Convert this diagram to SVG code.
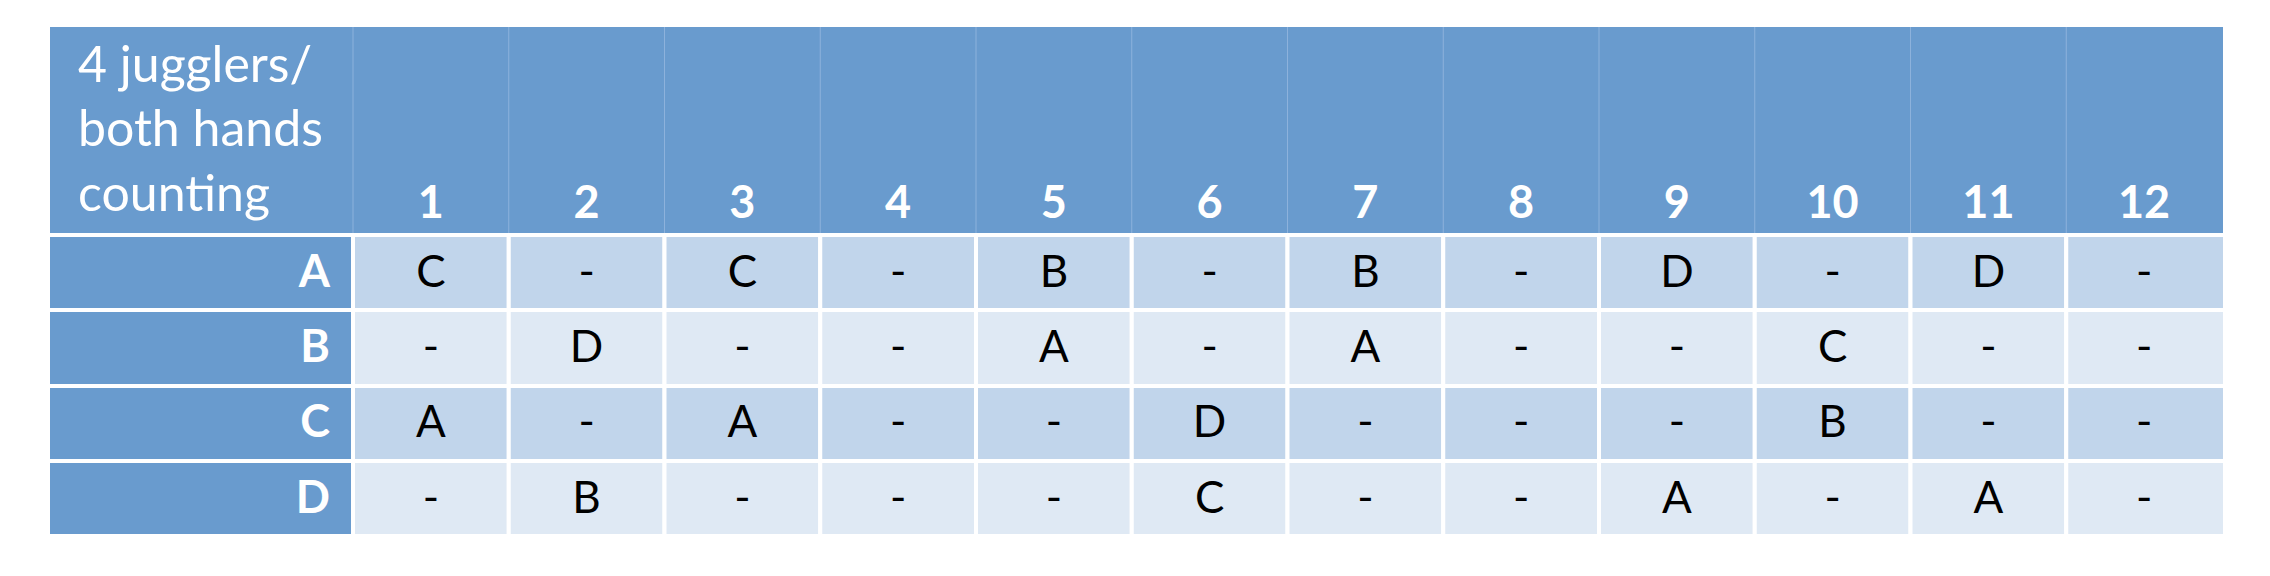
<svg xmlns="http://www.w3.org/2000/svg" width="2270" height="576" viewBox="0 0 2270 576">
<style>
.hdr{fill:#699BCE}
.hl{stroke:#8DB2DC;stroke-width:1}
.ra{fill:#C1D5EB;stroke:#fff;stroke-width:4}
.rb{fill:#DFE9F4;stroke:#fff;stroke-width:4}
.rl{fill:#699BCE;stroke:#fff;stroke-width:4}
.t{font-family:Lato,"Liberation Sans",sans-serif}
.ht{fill:#fff;font-size:50px}
.num{fill:#fff;font-size:45px;font-weight:bold;text-anchor:middle}
.lab{fill:#fff;font-size:45px;font-weight:bold;text-anchor:end}
.c{fill:#000;font-size:44px;text-anchor:middle}
</style>
<rect width="2270" height="576" fill="#fff"/>
<g id="header">
<rect class="hdr" x="50" y="27" width="2173" height="208"/>
<g class="hl">
<line x1="353" y1="27" x2="353" y2="235"/><line x1="508.75" y1="27" x2="508.75" y2="235"/><line x1="664.5" y1="27" x2="664.5" y2="235"/><line x1="820.25" y1="27" x2="820.25" y2="235"/><line x1="976" y1="27" x2="976" y2="235"/><line x1="1131.75" y1="27" x2="1131.75" y2="235"/><line x1="1287.5" y1="27" x2="1287.5" y2="235"/><line x1="1443.25" y1="27" x2="1443.25" y2="235"/><line x1="1599" y1="27" x2="1599" y2="235"/><line x1="1754.75" y1="27" x2="1754.75" y2="235"/><line x1="1910.5" y1="27" x2="1910.5" y2="235"/><line x1="2066.25" y1="27" x2="2066.25" y2="235"/>
</g>
<text class="t ht" x="78" y="82">4 jugglers/</text>
<text class="t ht" x="78" y="146">both hands</text>
<text class="t ht" x="78" y="211">counting</text>
<g class="t num">
<text x="430.9" y="218">1</text><text x="586.6" y="218">2</text><text x="742.4" y="218">3</text><text x="898.1" y="218">4</text><text x="1053.9" y="218">5</text><text x="1209.6" y="218">6</text><text x="1365.4" y="218">7</text><text x="1521.1" y="218">8</text><text x="1676.9" y="218">9</text><text x="1832.6" y="218">10</text><text x="1988.4" y="218">11</text><text x="2144.1" y="218">12</text>
</g>
</g>
<g id="row-A">
<rect class="rl" x="48" y="235" width="305" height="75"/>
<rect class="ra" x="353" y="235" width="155.75" height="75"/><rect class="ra" x="508.75" y="235" width="155.75" height="75"/><rect class="ra" x="664.5" y="235" width="155.75" height="75"/><rect class="ra" x="820.25" y="235" width="155.75" height="75"/><rect class="ra" x="976" y="235" width="155.75" height="75"/><rect class="ra" x="1131.75" y="235" width="155.75" height="75"/><rect class="ra" x="1287.5" y="235" width="155.75" height="75"/><rect class="ra" x="1443.25" y="235" width="155.75" height="75"/><rect class="ra" x="1599" y="235" width="155.75" height="75"/><rect class="ra" x="1754.75" y="235" width="155.75" height="75"/><rect class="ra" x="1910.5" y="235" width="155.75" height="75"/><rect class="ra" x="2066.25" y="235" width="158.75" height="75"/>
<text class="t lab" x="330" y="287">A</text>
<g class="t c"><text x="430.9" y="287">C</text><text x="586.6" y="287">-</text><text x="742.4" y="287">C</text><text x="898.1" y="287">-</text><text x="1053.9" y="287">B</text><text x="1209.6" y="287">-</text><text x="1365.4" y="287">B</text><text x="1521.1" y="287">-</text><text x="1676.9" y="287">D</text><text x="1832.6" y="287">-</text><text x="1988.4" y="287">D</text><text x="2144.1" y="287">-</text></g>
</g>
<g id="row-B">
<rect class="rl" x="48" y="310" width="305" height="76"/>
<rect class="rb" x="353" y="310" width="155.75" height="76"/><rect class="rb" x="508.75" y="310" width="155.75" height="76"/><rect class="rb" x="664.5" y="310" width="155.75" height="76"/><rect class="rb" x="820.25" y="310" width="155.75" height="76"/><rect class="rb" x="976" y="310" width="155.75" height="76"/><rect class="rb" x="1131.75" y="310" width="155.75" height="76"/><rect class="rb" x="1287.5" y="310" width="155.75" height="76"/><rect class="rb" x="1443.25" y="310" width="155.75" height="76"/><rect class="rb" x="1599" y="310" width="155.75" height="76"/><rect class="rb" x="1754.75" y="310" width="155.75" height="76"/><rect class="rb" x="1910.5" y="310" width="155.75" height="76"/><rect class="rb" x="2066.25" y="310" width="158.75" height="76"/>
<text class="t lab" x="330" y="362">B</text>
<g class="t c"><text x="430.9" y="362">-</text><text x="586.6" y="362">D</text><text x="742.4" y="362">-</text><text x="898.1" y="362">-</text><text x="1053.9" y="362">A</text><text x="1209.6" y="362">-</text><text x="1365.4" y="362">A</text><text x="1521.1" y="362">-</text><text x="1676.9" y="362">-</text><text x="1832.6" y="362">C</text><text x="1988.4" y="362">-</text><text x="2144.1" y="362">-</text></g>
</g>
<g id="row-C">
<rect class="rl" x="48" y="386" width="305" height="75"/>
<rect class="ra" x="353" y="386" width="155.75" height="75"/><rect class="ra" x="508.75" y="386" width="155.75" height="75"/><rect class="ra" x="664.5" y="386" width="155.75" height="75"/><rect class="ra" x="820.25" y="386" width="155.75" height="75"/><rect class="ra" x="976" y="386" width="155.75" height="75"/><rect class="ra" x="1131.75" y="386" width="155.75" height="75"/><rect class="ra" x="1287.5" y="386" width="155.75" height="75"/><rect class="ra" x="1443.25" y="386" width="155.75" height="75"/><rect class="ra" x="1599" y="386" width="155.75" height="75"/><rect class="ra" x="1754.75" y="386" width="155.75" height="75"/><rect class="ra" x="1910.5" y="386" width="155.75" height="75"/><rect class="ra" x="2066.25" y="386" width="158.75" height="75"/>
<text class="t lab" x="330" y="437">C</text>
<g class="t c"><text x="430.9" y="437">A</text><text x="586.6" y="437">-</text><text x="742.4" y="437">A</text><text x="898.1" y="437">-</text><text x="1053.9" y="437">-</text><text x="1209.6" y="437">D</text><text x="1365.4" y="437">-</text><text x="1521.1" y="437">-</text><text x="1676.9" y="437">-</text><text x="1832.6" y="437">B</text><text x="1988.4" y="437">-</text><text x="2144.1" y="437">-</text></g>
</g>
<g id="row-D">
<rect class="rl" x="48" y="461" width="305" height="75"/>
<rect class="rb" x="353" y="461" width="155.75" height="75"/><rect class="rb" x="508.75" y="461" width="155.75" height="75"/><rect class="rb" x="664.5" y="461" width="155.75" height="75"/><rect class="rb" x="820.25" y="461" width="155.75" height="75"/><rect class="rb" x="976" y="461" width="155.75" height="75"/><rect class="rb" x="1131.75" y="461" width="155.75" height="75"/><rect class="rb" x="1287.5" y="461" width="155.75" height="75"/><rect class="rb" x="1443.25" y="461" width="155.75" height="75"/><rect class="rb" x="1599" y="461" width="155.75" height="75"/><rect class="rb" x="1754.75" y="461" width="155.75" height="75"/><rect class="rb" x="1910.5" y="461" width="155.75" height="75"/><rect class="rb" x="2066.25" y="461" width="158.75" height="75"/>
<text class="t lab" x="330" y="513">D</text>
<g class="t c"><text x="430.9" y="513">-</text><text x="586.6" y="513">B</text><text x="742.4" y="513">-</text><text x="898.1" y="513">-</text><text x="1053.9" y="513">-</text><text x="1209.6" y="513">C</text><text x="1365.4" y="513">-</text><text x="1521.1" y="513">-</text><text x="1676.9" y="513">A</text><text x="1832.6" y="513">-</text><text x="1988.4" y="513">A</text><text x="2144.1" y="513">-</text></g>
</g>
<g id="connectors"></g>
</svg>
